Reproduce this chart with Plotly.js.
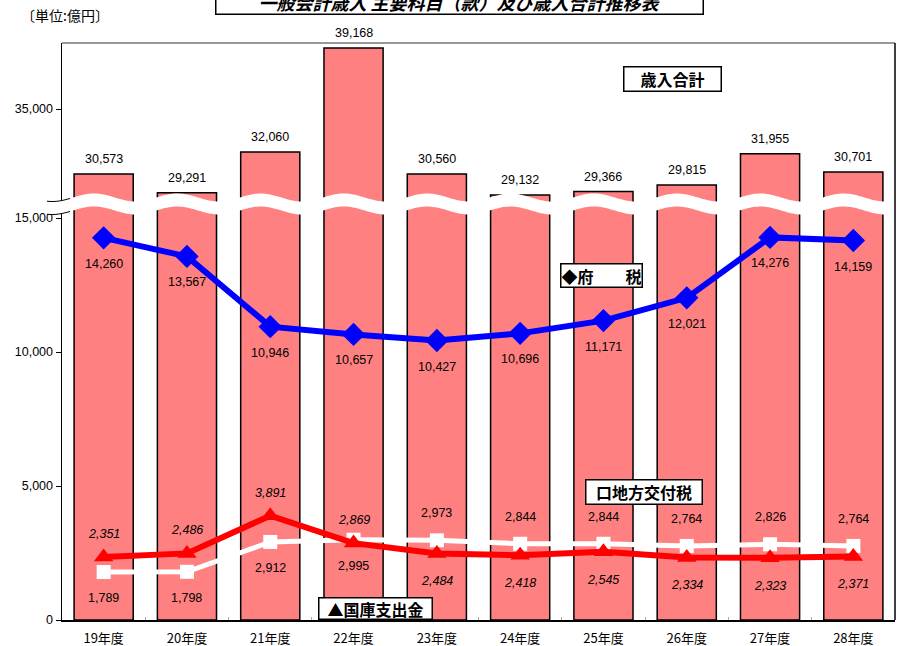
<!DOCTYPE html>
<html><head><meta charset="utf-8">
<script src="https://cdn.plot.ly/plotly-3.0.1.min.js"></script>
<style>html,body{margin:0;padding:0;background:#fff}#chart{width:903px;height:646px}</style>
</head><body><div id="chart"></div>
<script>
const years = ['19年度','20年度','21年度','22年度','23年度','24年度','25年度','26年度','27年度','28年度'];
const totalRevenue = [30573, 29291, 32060, 39168, 30560, 29132, 29366, 29815, 31955, 30701];
const prefTax = [14260, 13567, 10946, 10657, 10427, 10696, 11171, 12021, 14276, 14159];
const localAllocTax = [1789, 1798, 2912, 2995, 2973, 2844, 2844, 2764, 2826, 2764];
const treasuryDisb = [2351, 2486, 3891, 2869, 2484, 2418, 2545, 2334, 2323, 2371];
const localLabelSide = ['below','below','below','below','above','above','above','above','above','above'];
const treasuryLabelSide = ['above','above','above','above','below','below','below','below','below','below'];

const FONT = 'Liberation Sans, Noto Sans CJK JP, sans-serif';
const JFONT = 'Noto Sans CJK JP, sans-serif';
const L = 62, R = 8, T = 43, B = 26, W = 903, H = 646;
const PW = W - L - R, PH = H - T - B;
const px = X => (X - L) / PW;
const py = Y => (H - B - Y) / PH;
const splitY = 205;
const lowDom = py(splitY);
const lowTop = (H - B - splitY) * (15000 / (620 - 218));
const upPerPx = (39168 - 29132) / (195 - 48);
const upBottom = 29132 - (splitY - 195) * upPerPx;
const upTop = 29132 + (195 - T) * upPerPx;

const barStyle = {color: '#FF8080', line: {color: '#000', width: 1.5}};
const traces = [
  {type: 'bar', x: years, y: totalRevenue, xaxis: 'x', yaxis: 'y', marker: barStyle, hoverinfo: 'none'},
  {type: 'bar', x: years, y: totalRevenue, xaxis: 'x', yaxis: 'y2', marker: barStyle, hoverinfo: 'none'},
  {type: 'scatter', mode: 'lines+markers', x: years, y: localAllocTax, yaxis: 'y', cliponaxis: false,
   line: {color: '#FFFFFF', width: 5}, marker: {symbol: 'square', size: 14, color: '#FFFFFF'}},
  {type: 'scatter', mode: 'lines+markers', x: years, y: treasuryDisb, yaxis: 'y', cliponaxis: false,
   line: {color: '#FF0000', width: 6}, marker: {symbol: 'triangle-up', size: 17, color: '#FF0000'}},
  {type: 'scatter', mode: 'lines+markers', x: years, y: prefTax, yaxis: 'y', cliponaxis: false,
   line: {color: '#0000FF', width: 6}, marker: {symbol: 'diamond', size: 18, color: '#0000FF'}}
];

const ann = [];
const lblFont = {family: FONT, size: 12.5, color: '#000'};
years.forEach((yr, i) => {
  ann.push({x: yr, y: totalRevenue[i], xref: 'x', yref: 'y2', text: totalRevenue[i].toLocaleString('en-US'),
    showarrow: false, yshift: 15, font: lblFont, bgcolor: '#fff'});
  ann.push({x: yr, y: prefTax[i], xref: 'x', yref: 'y', text: prefTax[i].toLocaleString('en-US'),
    showarrow: false, yshift: -26, font: lblFont});
  ann.push({x: yr, y: localAllocTax[i], xref: 'x', yref: 'y', text: localAllocTax[i].toLocaleString('en-US'),
    showarrow: false, yshift: localLabelSide[i] === 'above' ? 27 : -26, font: lblFont});
  ann.push({x: yr, y: treasuryDisb[i], xref: 'x', yref: 'y', text: treasuryDisb[i].toLocaleString('en-US'),
    showarrow: false, yshift: treasuryLabelSide[i] === 'above' ? 23 : -28,
    font: {family: FONT, size: 12.5, color: '#000', style: 'italic'}});
});

function box(text, cx, cy, w, h, size) {
  return {xref: 'paper', yref: 'paper', x: px(cx), y: py(cy), xanchor: 'center', yanchor: 'middle',
    text: text, showarrow: false, width: w, height: h, bgcolor: '#fff', bordercolor: '#000',
    borderwidth: 1.5, borderpad: 0, font: {family: JFONT, size: size, color: '#000', weight: 'bold'}};
}
ann.push(box('歳入合計', 672, 79, 96, 23, 16));
ann.push(box('◆府　　税', 601, 275, 80, 22, 16));
ann.push(box('口地方交付税', 644, 492, 115, 23, 16));
ann.push(box('▲国庫支出金', 375, 608, 112, 20, 16));
ann.push({xref: 'paper', yref: 'paper', x: px(459), y: py(2), xanchor: 'center', yanchor: 'middle',
  text: '一般会計歳入 主要科目（款）及び歳入合計推移表', showarrow: false, width: 486, height: 24,
  bgcolor: '#fff', bordercolor: '#000', borderwidth: 1.5, borderpad: 0,
  font: {family: JFONT, size: 18, color: '#000', weight: 'bold', style: 'italic'}});
ann.push({xref: 'paper', yref: 'paper', x: px(19), y: py(15), xanchor: 'left', yanchor: 'middle',
  text: '〔単位:億円〕', showarrow: false, font: {family: JFONT, size: 14, color: '#000'}});

// axis-break band (decoration)
const yc = X => 204 - 4 * Math.cos(2 * Math.PI * (X - 94) / 83.3);
const x0 = 47, x1 = 887, half = 6.5;
let topPts = [], botPts = [];
for (let X = x0; X <= x1; X += 2) { topPts.push([X, yc(X) - half]); botPts.push([X, yc(X) + half]); }
const toP = p => px(p[0]).toFixed(5) + ',' + py(p[1]).toFixed(5);
let bandPath = 'M' + topPts.map(toP).join(' L') + ' L' + botPts.slice().reverse().map(toP).join(' L') + ' Z';
const edge = (sign) => { let pts = []; for (let X = x0; X <= 70; X += 1) pts.push([X, yc(X) + sign * half]); return 'M' + pts.map(toP).join(' L'); };

const shapes = [
  {type: 'line', xref: 'paper', yref: 'paper', x0: 0, x1: 1, y0: 1, y1: 1, line: {color: '#999', width: 2}},
  {type: 'line', xref: 'paper', yref: 'paper', x0: 1, x1: 1, y0: 0, y1: 1, line: {color: '#000', width: 1.5}},
  {type: 'path', xref: 'paper', yref: 'paper', path: bandPath, fillcolor: '#fff', line: {width: 0}, layer: 'above'},
  {type: 'path', xref: 'paper', yref: 'paper', path: edge(-1), line: {color: '#000', width: 1}, layer: 'above'},
  {type: 'path', xref: 'paper', yref: 'paper', path: edge(1), line: {color: '#000', width: 1}, layer: 'above'}
];

const layout = {
  width: W, height: H, margin: {l: L, r: R, t: T, b: B, pad: 0},
  paper_bgcolor: '#fff', plot_bgcolor: '#fff', showlegend: false, barmode: 'overlay', bargap: 0.29,
  xaxis: {type: 'category', range: [-0.5, years.length - 0.5], autorange: false,
    showline: true, linecolor: '#000', linewidth: 1.5, showgrid: false, zeroline: false,
    ticks: 'inside', tickson: 'boundaries', ticklen: 3, tickcolor: '#aaa', ticklabelstandoff: 6,
    tickfont: {family: JFONT, size: 13, color: '#000'}, anchor: 'y', fixedrange: true},
  yaxis: {domain: [0, lowDom], range: [0, lowTop], showline: true, linecolor: '#000', linewidth: 1.5,
    showgrid: false, zeroline: false, ticks: 'outside', ticklen: 5, tickcolor: '#000',
    tickvals: [0, 5000, 10000, 15000], tickformat: ',d', tickfont: {family: FONT, size: 12.5, color: '#000'}, anchor: 'x'},
  yaxis2: {domain: [lowDom, 1], range: [upBottom, upTop], showline: true, linecolor: '#000', linewidth: 1.5,
    showgrid: false, zeroline: false, ticks: 'outside', ticklen: 5, tickcolor: '#000',
    tickvals: [35000], tickformat: ',d', tickfont: {family: FONT, size: 12.5, color: '#000'}, anchor: 'x'},
  annotations: ann, shapes: shapes
};
Plotly.newPlot('chart', traces, layout, {staticPlot: true, displayModeBar: false});
</script></body></html>
